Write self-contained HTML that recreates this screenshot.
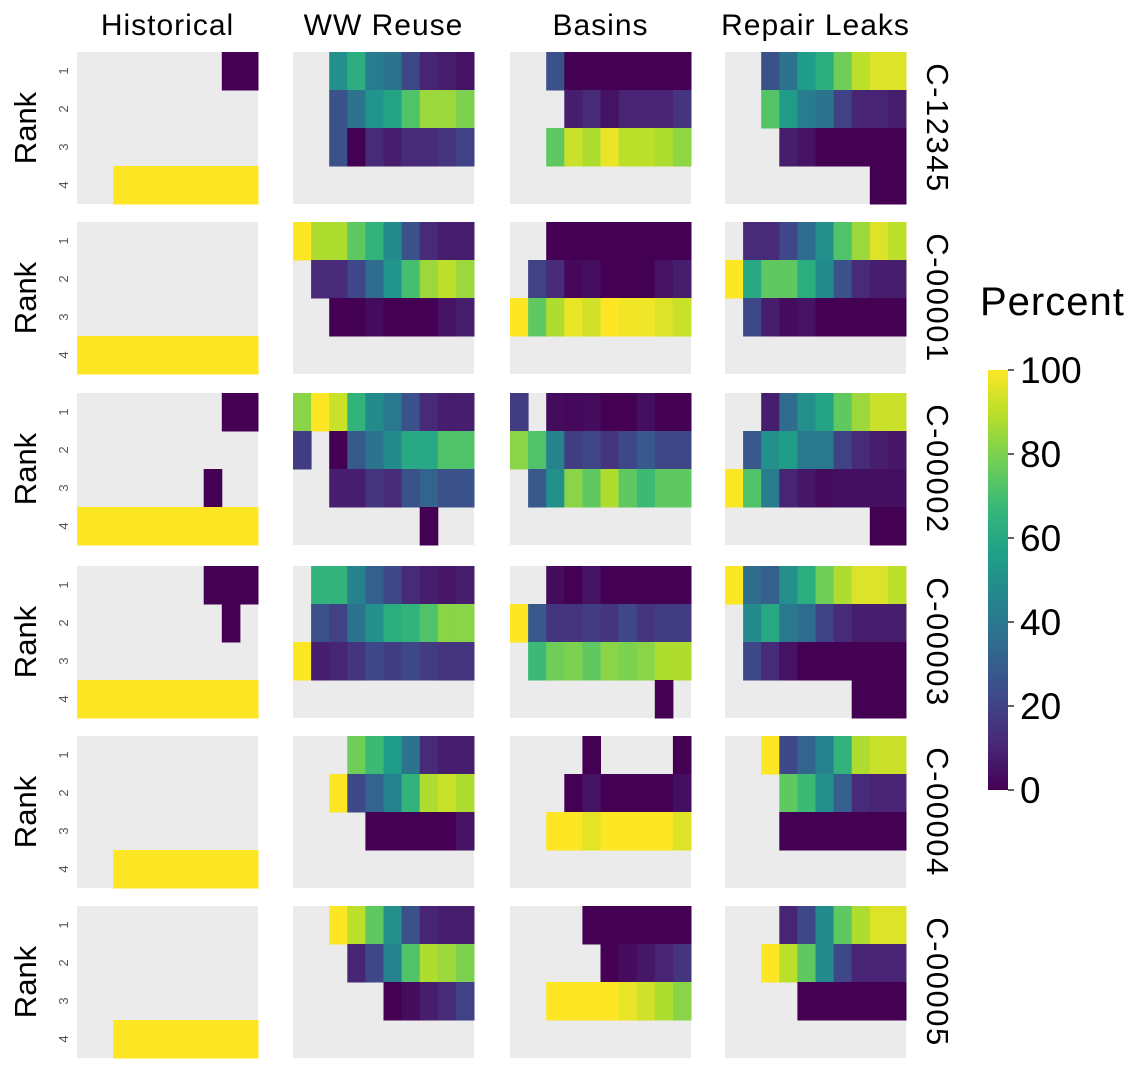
<!DOCTYPE html>
<html><head><meta charset="utf-8"><style>
body{margin:0;background:#fff;}
svg text{font-family:"Liberation Sans","DejaVu Sans",sans-serif;}
</style></head><body>
<svg id="chart" width="1142" height="1068" xmlns="http://www.w3.org/2000/svg"></svg>
<script>
const columns = ["Historical","WW Reuse","Basins","Repair Leaks"];
const rowLabels = ["C-12345","C-00001","C-00002","C-00003","C-00004","C-00005"];
const rankLabels = ["1","2","3","4"];
const colorTicks = [0,20,40,60,80,100];
const N = null;
// values[row][col][rank] = 10 values (null = no data)
const valuesC12345 = [
 [[N,N,N,N,N,N,N,N,0,0],[N,N,N,N,N,N,N,N,N,N],[N,N,N,N,N,N,N,N,N,N],[N,N,100,100,100,100,100,100,100,100]],
 [[N,N,50,62,42,38,22,10,8,5],[N,N,25,38,52,58,72,85,85,80],[N,N,25,0,12,8,12,12,15,20],[N,N,N,N,N,N,N,N,N,N]],
 [[N,N,25,0,0,0,0,0,0,0],[N,N,N,8,12,5,10,10,10,15],[N,N,75,92,88,97,90,90,88,83],[N,N,N,N,N,N,N,N,N,N]],
 [[N,N,25,38,55,62,78,90,95,95],[N,N,73,55,42,38,20,10,10,8],[N,N,N,8,5,0,0,0,0,0],[N,N,N,N,N,N,N,N,0,0]]
];
const valuesC00001 = [
 [[N,N,N,N,N,N,N,N,N,N],[N,N,N,N,N,N,N,N,N,N],[N,N,N,N,N,N,N,N,N,N],[100,100,100,100,100,100,100,100,100,100]],
 [[100,88,88,75,65,48,25,12,8,8],[N,12,12,22,35,52,70,85,90,85],[N,N,0,0,3,0,0,0,5,8],[N,N,N,N,N,N,N,N,N,N]],
 [[N,N,0,0,0,0,0,0,0,0],[N,20,12,2,4,0,0,0,5,8],[100,75,88,97,93,100,98,98,95,92],[N,N,N,N,N,N,N,N,N,N]],
 [[N,12,12,22,35,50,72,85,95,90],[100,60,75,75,62,48,25,12,8,8],[N,22,8,3,5,0,0,0,0,0],[N,N,N,N,N,N,N,N,N,N]]
];
const valuesC00002 = [
 [[N,N,N,N,N,N,N,N,0,0],[N,N,N,N,N,N,N,N,N,N],[N,N,N,N,N,N,N,0,N,N],[100,100,100,100,100,100,100,100,100,100]],
 [[82,100,92,65,48,40,25,12,8,8],[18,N,0,28,38,48,60,60,72,72],[N,N,8,8,15,12,25,32,25,25],[N,N,N,N,N,N,N,0,N,N]],
 [[18,N,3,2,3,0,0,4,0,0],[82,72,45,18,22,15,22,28,22,22],[N,28,50,82,75,88,75,68,75,75],[N,N,N,N,N,N,N,N,N,N]],
 [[N,N,8,35,50,58,75,85,92,92],[N,28,50,55,40,40,20,12,8,6],[100,72,42,10,6,3,4,4,4,4],[N,N,N,N,N,N,N,N,0,0]]
];
const valuesC00003 = [
 [[N,N,N,N,N,N,N,0,0,0],[N,N,N,N,N,N,N,N,0,N],[N,N,N,N,N,N,N,N,N,N],[100,100,100,100,100,100,100,100,100,100]],
 [[N,65,65,45,30,22,12,8,6,8],[N,25,20,38,50,62,65,72,82,82],[100,8,10,15,22,18,22,18,15,15],[N,N,N,N,N,N,N,N,N,N]],
 [[N,N,3,0,5,0,0,0,0,0],[100,28,15,15,18,15,22,15,18,18],[N,68,78,80,75,82,80,82,88,88],[N,N,N,N,N,N,N,N,0,N]],
 [[100,35,30,50,62,78,88,95,95,90],[N,48,60,40,35,20,12,8,8,8],[N,22,12,5,0,0,0,0,0,0],[N,N,N,N,N,N,N,0,0,0]]
];
const valuesC00004 = [
 [[N,N,N,N,N,N,N,N,N,N],[N,N,N,N,N,N,N,N,N,N],[N,N,N,N,N,N,N,N,N,N],[N,N,100,100,100,100,100,100,100,100]],
 [[N,N,N,78,68,55,38,12,8,8],[N,N,100,22,32,45,65,88,92,88],[N,N,N,N,0,0,0,0,0,5],[N,N,N,N,N,N,N,N,N,N]],
 [[N,N,N,N,0,N,N,N,N,0],[N,N,N,0,5,0,0,0,0,4],[N,N,100,100,96,100,100,100,100,95],[N,N,N,N,N,N,N,N,N,N]],
 [[N,N,100,22,32,45,65,88,92,92],[N,N,N,75,68,50,30,12,10,10],[N,N,N,0,0,0,0,0,0,0],[N,N,N,N,N,N,N,N,N,N]]
];
const valuesC00005 = [
 [[N,N,N,N,N,N,N,N,N,N],[N,N,N,N,N,N,N,N,N,N],[N,N,N,N,N,N,N,N,N,N],[N,N,100,100,100,100,100,100,100,100]],
 [[N,N,100,90,75,50,25,10,8,8],[N,N,N,10,22,45,72,88,85,80],[N,N,N,N,N,0,3,8,12,20],[N,N,N,N,N,N,N,N,N,N]],
 [[N,N,N,N,0,0,0,0,0,0],[N,N,N,N,N,0,3,6,10,15],[N,N,100,100,100,100,97,93,88,82],[N,N,N,N,N,N,N,N,N,N]],
 [[N,N,N,10,22,48,75,88,95,95],[N,N,100,90,75,48,22,10,10,10],[N,N,N,N,0,0,0,0,0,0],[N,N,N,N,N,N,N,N,N,N]]
];
const allValues = [valuesC12345,valuesC00001,valuesC00002,valuesC00003,valuesC00004,valuesC00005];

const NS="http://www.w3.org/2000/svg";
const svg=document.getElementById('chart');
const vir=[[68,1,84],[72,40,120],[62,73,137],[49,104,142],[38,130,142],[31,158,137],[53,183,121],[110,206,88],[181,222,43],[253,231,37]];
function color(v){const t=Math.max(0,Math.min(1,v/100))*9;const i=Math.min(8,Math.floor(t));const f=t-i;const a=vir[i],b=vir[i+1];
 return `rgb(${Math.round(a[0]+(b[0]-a[0])*f)},${Math.round(a[1]+(b[1]-a[1])*f)},${Math.round(a[2]+(b[2]-a[2])*f)})`;}
function mk(tag,attrs,txt){const e=document.createElementNS(NS,tag);for(const k in attrs)e.setAttribute(k,attrs[k]);if(txt!==undefined)e.textContent=txt;svg.appendChild(e);return e;}
const panelX=[77,293,510,725], panelW=181;
const panelY=[52,222,393,566,736,906], panelH=152;
const nCols=10;
function xScale(c,i){return panelX[c]+i*panelW/nCols;}
function yScale(r,k){return panelY[r]+k*panelH/4;}

columns.forEach((name,c)=>{
 const t=mk('text',{x:panelX[c]+panelW/2,y:35,'font-size':30,'text-anchor':'middle',fill:'#000','letter-spacing':1},name);
 
 
});
rowLabels.forEach((lab,r)=>{
 const cy=panelY[r]+panelH/2;
 const t=mk('text',{x:0,y:0,'font-size':31,'text-anchor':'middle',fill:'#000',transform:`translate(36,${cy}) rotate(-90)`},'Rank');
 
 
 rankLabels.forEach((rk,k)=>{
  const ty=yScale(r,k)+panelH/8;
  const tl=mk('text',{x:0,y:0,'font-size':13,'text-anchor':'middle',fill:'#555',transform:`translate(68,${ty}) rotate(-90)`},rk);
  
  
 });
 const s=mk('text',{x:0,y:0,'font-size':31,'text-anchor':'middle',fill:'#000',transform:`translate(927,${cy}) rotate(90)`,'letter-spacing':1.5},lab);
 
 
 columns.forEach((name,c)=>{
  const bg=mk('rect',{x:panelX[c],y:panelY[r],width:panelW,height:panelH,fill:'#ebebeb'});
  
  
  allValues[r][c].forEach((vals,k)=>{
   vals.forEach((v,i)=>{
    if(v===null)return;
    const x0=xScale(c,i),x1=xScale(c,i+1);
    const cell=mk('rect',{x:x0,y:yScale(r,k),width:x1-x0+0.5,height:panelH/4+0.5,fill:color(v)});
    
    
   });
  });
 });
});
// colorbar
const cbX=988,cbW=20,cbTop=370,cbBot=790;
function cbY(v){return cbBot-(cbBot-cbTop)*v/100;}
const defs=mk('defs',{});
const grad=document.createElementNS(NS,'linearGradient');
grad.setAttribute('id','vg');grad.setAttribute('x1','0');grad.setAttribute('y1','1');grad.setAttribute('x2','0');grad.setAttribute('y2','0');
vir.forEach((c,i)=>{const st=document.createElementNS(NS,'stop');st.setAttribute('offset',i/9);st.setAttribute('stop-color',`rgb(${c})`);grad.appendChild(st);});
defs.appendChild(grad);
const cb=mk('rect',{x:cbX,y:cbTop,width:cbW,height:cbBot-cbTop,fill:'url(#vg)'});


const ct=mk('text',{x:980,y:315,'font-size':40,fill:'#000','letter-spacing':1},'Percent');


colorTicks.forEach(v=>{
 const y=cbY(v);
 const tm=mk('line',{x1:cbX+cbW,x2:cbX+cbW+6,y1:y,y2:y,stroke:'#333','stroke-width':1.5});
 
 
 const tl=mk('text',{x:1020,y:y+13,'font-size':37,fill:'#000'},String(v));
 
 
});
</script>
</body></html>
